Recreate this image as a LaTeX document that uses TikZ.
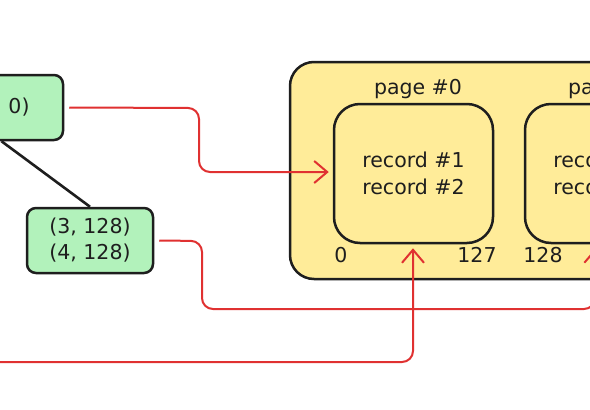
\documentclass[tikz,border=0pt]{standalone}
\usepackage{fontspec}
\setmainfont{DejaVu Sans}
\usetikzlibrary{arrows.meta,calc}
\definecolor{gfill}{HTML}{B2F2BB}
\definecolor{yfill}{HTML}{FFEC99}
\definecolor{ink}{HTML}{1E1E1E}
\definecolor{redline}{HTML}{E03131}
\tikzset{
  gbox/.style={draw=ink, fill=gfill, line width=2.5pt, rounded corners=9pt, align=center, inner sep=0pt, text=ink, font=\fontsize{20.5}{26}\selectfont},
  pagebox/.style={draw=ink, fill=yfill, line width=2.5pt, rounded corners=26pt, align=center, inner sep=0pt, minimum width=159pt, minimum height=139pt, text=ink, font=\fontsize{20.5}{27}\selectfont},
  lbl/.style={inner sep=0pt, text=ink, font=\fontsize{20.5}{25}\selectfont},
  link/.style={draw=redline, line width=2pt, rounded corners=11pt},
  tip/.style={-{Straight Barb[length=13pt,width=22pt,line width=2pt]}},
  tree/.style={draw=ink, line width=2.6pt}
}
\begin{document}
\begin{tikzpicture}[x=1pt,y=-1pt]
\useasboundingbox (0,0) rectangle (590,410);
\clip (0,0) rectangle (590,410);
\fill[white] (0,0) rectangle (590,410);
% outer memory block
\draw[draw=ink, fill=yfill, line width=2.5pt, rounded corners=24pt] (290,62) rectangle (900,279);
% pages
\node[pagebox] (p0) at (413.5,173.5) {record \#1\\record \#2};
\node[pagebox] (p1) at (604.5,173.5) {record \#3\\record \#4};
\node[lbl] (p0l) at (418,89) {page \#0};
\node[lbl] (p1l) at (612,89) {page \#1};
\node[lbl] (a0) at (341,255) {0};
\node[lbl] (a1) at (477,255) {127};
\node[lbl] (a2) at (543,255) {128};
% tree nodes
\node[gbox, minimum width=123pt, minimum height=65pt] (n0) at (1.5,107.5) {};
\node[lbl] (n0t) at (19,107) {0)};
\node[gbox, minimum width=126pt, minimum height=65pt] (n1) at (90,240.5) {(3, 128)\\(4, 128)};
\draw[tree] (n0.south) -- (n1.north);
% connectors
\coordinate (c1s) at ($(n0.east)+(5,0)$);
\draw[link, tip] (c1s) -- (199,108) -- (199,172) -- ($(p0.west)+(-4,-1.5)$);
\coordinate (c2s) at ($(n1.east)+(5,0)$);
\coordinate (p1in) at ($(p1.south)+(-9,4)$);
\draw[link, tip] (c2s) -- (202,241) -- (202,309) -- (595,309) -- (p1in);
\coordinate (c3s) at (-20,362);
\draw[link, tip] (c3s) -- (413,362) -- ($(p0.south)+(-0.5,4)$);
\end{tikzpicture}
\end{document}
